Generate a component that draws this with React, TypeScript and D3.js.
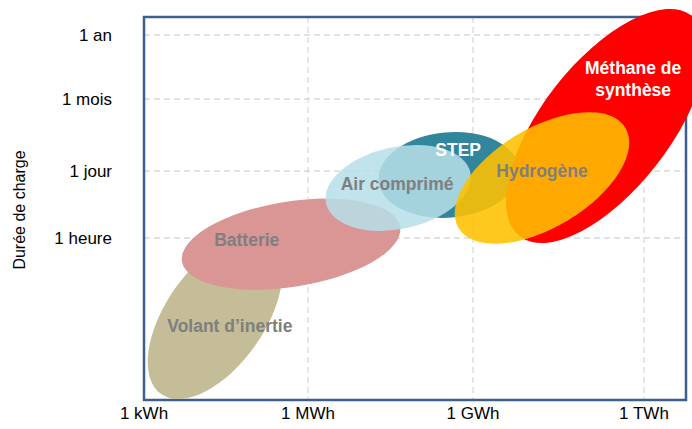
import React from "react";
import * as d3 from "d3";

// Energy ticks (log10 of Wh)
const xTickLabels = ["1 kWh", "1 MWh", "1 GWh", "1 TWh"];
const xTickValues = [3, 6, 9, 12];
// Duration ticks (log10 of seconds)
const yTickLabels = ["1 heure", "1 jour", "1 mois", "1 an"];
const yTickValues = [Math.log10(3600), Math.log10(86400), Math.log10(2592000), Math.log10(31557600)];

// Technologies: centre (log10 Wh, log10 s), semi-axes in decades, rotation deg
const techNames = ["Volant d\u2019inertie", "Batterie", "STEP", "Air comprim\u00e9", "M\u00e9thane de synth\u00e8se", "Hydrog\u00e8ne"];
const techEnergy = [4.30, 5.69, 8.56, 7.64, 11.33, 10.21];
const techDuration = [1.927, 3.43, 4.855, 4.587, 5.860, 4.793];
const techMajor = [1.72, 2.02, 1.29, 1.35, 2.56, 1.78];
const techMinor = [0.90, 0.78, 0.78, 0.75, 1.17, 0.91];
const techAngle = [-55, -9, -5, -12, -52, -31];
const techLabelEnergy = [4.57, 4.88, 8.73, 7.62, 11.81, 10.21];
const techLabelDuration = [1.742, 3.515, 5.368, 4.669, 6.762, 4.937];
const techLabelLines = [["Volant d\u2019inertie"], ["Batterie"], ["STEP"], ["Air comprim\u00e9"], ["M\u00e9thane de", "synth\u00e8se"], ["Hydrog\u00e8ne"]];

const techFill = ["#C4BD97", "#D99694", "#31859C", "#B7DEE8", "#FF0000", "#FFC000"];
const techOpacity = [1, 1, 1, 0.86, 1, 0.88];
const techLabelColor = ["#7F7F7F", "#7F7F7F", "#FFFFFF", "#7F7F7F", "#FFFFFF", "#7F7F7F"];

const W = 692;
const H = 429;
const plot = { left: 144, right: 686, top: 17, bottom: 400 };

export default function App() {
  const x = d3.scaleLinear().domain(xTickValues).range([144, 308, 473, 644]);
  const y = d3.scaleLinear().domain(yTickValues).range([238, 171, 99, 35]);
  const k = (x(6) - x(3)) / 3;
  const font = "'Liberation Sans', Arial, sans-serif";

  return (
    <svg width={W} height={H} style={{ position: "absolute", left: 0, top: 0 }} fontFamily={font}>
      <rect x={0} y={0} width={W} height={H} fill="#fff" />
      {/* grid */}
      {xTickValues.slice(1).map((v, i) => (
        <line key={"gx" + i} x1={x(v)} x2={x(v)} y1={plot.top} y2={plot.bottom} stroke="#D9D9D9" strokeWidth={1.3} strokeDasharray="6,4" />
      ))}
      {yTickValues.map((v, i) => (
        <line key={"gy" + i} x1={plot.left} x2={plot.right} y1={y(v)} y2={y(v)} stroke="#D9D9D9" strokeWidth={1.3} strokeDasharray="6,4" />
      ))}
      {/* frame */}
      <rect x={plot.left} y={plot.top} width={plot.right - plot.left} height={plot.bottom - plot.top} fill="none" stroke="#3D5F8F" strokeWidth={2.5} />
      {/* ellipses */}
      {techNames.map((n, i) => (
        <ellipse
          key={"e" + i}
          cx={0}
          cy={0}
          rx={techMajor[i] * k}
          ry={techMinor[i] * k}
          transform={`translate(${x(techEnergy[i])},${y(techDuration[i])}) rotate(${techAngle[i]})`}
          fill={techFill[i]}
          fillOpacity={techOpacity[i]}
        />
      ))}
      {/* labels */}
      {techNames.map((n, i) => {
        const lines = techLabelLines[i];
        const lh = 22;
        const cx = x(techLabelEnergy[i]);
        const cy = y(techLabelDuration[i]);
        return (
          <text key={"l" + i} x={cx} y={cy} textAnchor="middle" fontSize={17.5} fontWeight="bold" fill={techLabelColor[i]}>
            {lines.map((ln, j) => (
              <tspan key={j} x={cx} y={cy + (j - (lines.length - 1) / 2) * lh} dy="0.35em">{ln}</tspan>
            ))}
          </text>
        );
      })}
      {/* axis tick labels */}
      {xTickValues.map((v, i) => (
        <text key={"xt" + i} x={x(v)} y={413} dy="0.35em" textAnchor="middle" fontSize={17} fill="#000">{xTickLabels[i]}</text>
      ))}
      {yTickValues.map((v, i) => (
        <text key={"yt" + i} x={112} y={y(v)} dy="0.35em" textAnchor="end" fontSize={17} fill="#000">{yTickLabels[i]}</text>
      ))}
      <text transform={`translate(19,210) rotate(-90)`} textAnchor="middle" dy="0.35em" fontSize={16} fill="#000">Durée de charge</text>
    </svg>
  );
}
